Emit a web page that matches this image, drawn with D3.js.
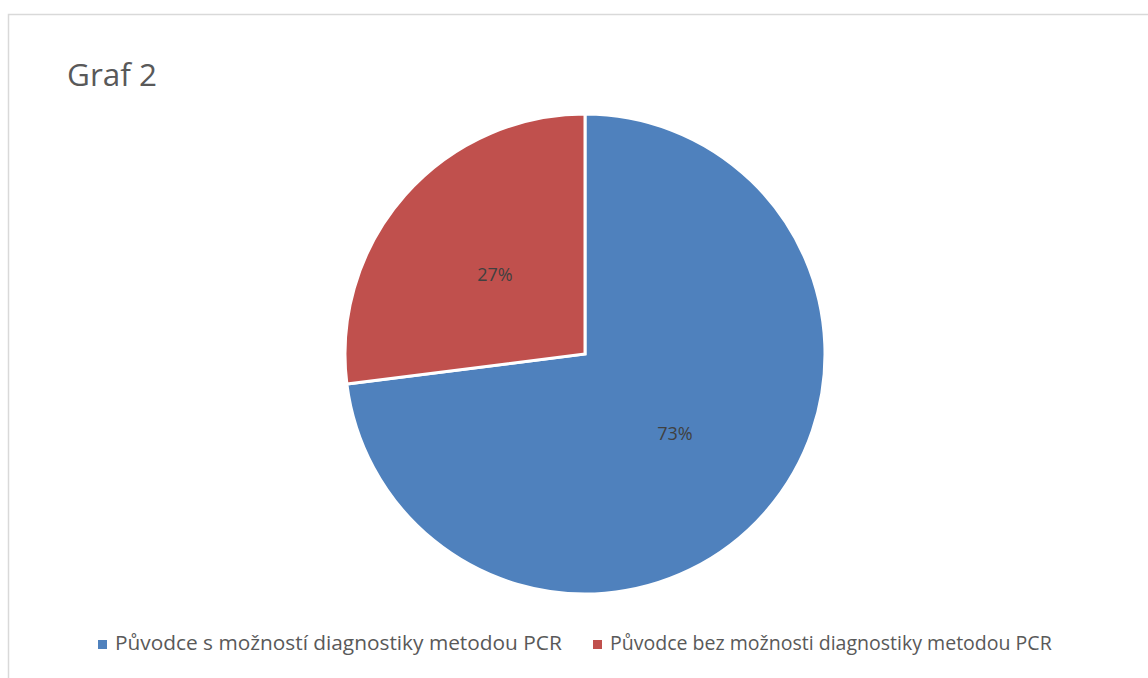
<!DOCTYPE html>
<html>
<head>
<meta charset="utf-8">
<script src="https://cdn.jsdelivr.net/npm/d3@7"></script>
<style>
	body { margin: 0; background: #fff; }
	svg { display: block; }
</style>
</head>
<body>
<svg id="chart" width="1148" height="678"></svg>
<script>
(function(){
	'use strict';

	// data
	var categories = ['Původce s možností diagnostiky metodou PCR', 'Původce bez možnosti diagnostiky metodou PCR'];
	var values = [73, 27];
	var colors = ['#4F81BD', '#C0504D'];
	var title = 'Graf 2';

	var font = '"Open Sans", sans-serif';
	var svg = d3.select('#chart');

	// frame (cut off at right and bottom)
	svg.append('rect')
		.attr('x', 8.5).attr('y', 14.5)
		.attr('width', 1200).attr('height', 700)
		.attr('fill', '#fff')
		.attr('stroke', '#d9d9d9')
		.attr('stroke-width', 1.5);

	// squeeze text horizontally to a target width by font size
	function fitText(sel, width){
		var w = sel.node().getComputedTextLength();
		var fs = parseFloat(sel.attr('font-size'));
		sel.attr('font-size', fs * width / w);
	}

	var t = svg.append('text')
		.text(title)
		.attr('x', 67).attr('y', 86)
		.attr('font-family', font)
		.attr('font-size', 32)
		.attr('fill', '#595959');
	fitText(t, 90);

	var cx = 585, cy = 354, r = 240;

	var pie = d3.pie().sort(null).value(function(d){ return d.value; });
	var arc = d3.arc().innerRadius(0).outerRadius(r);
	var labelArc = d3.arc().innerRadius(r * 0.5).outerRadius(r * 0.5);

	var data = categories.map(function(c, i){ return { name: c, value: values[i], color: colors[i] }; });
	var total = d3.sum(values);

	var g = svg.append('g').attr('transform', 'translate(' + cx + ',' + cy + ')');

	g.selectAll('path.slice')
		.data(pie(data))
		.enter().append('path')
		.attr('class', 'slice')
		.attr('d', arc)
		.attr('fill', function(d){ return d.data.color; })
		.attr('stroke', '#fff')
		.attr('stroke-width', 3)
		.attr('stroke-linejoin', 'miter');

	g.selectAll('text.lbl')
		.data(pie(data))
		.enter().append('text')
		.attr('class', 'lbl')
		.attr('transform', function(d){ return 'translate(' + labelArc.centroid(d) + ')'; })
		.attr('text-anchor', 'middle')
		.attr('dy', '0.35em')
		.attr('font-family', font)
		.attr('font-size', 18)
		.attr('fill', '#404040')
		.text(function(d){ return Math.round(d.data.value / total * 100) + '%'; });

	// legend
	var legendX = [98, 593];
	var legendW = [447, 442];
	var lg = svg.selectAll('g.legend')
		.data(data)
		.enter().append('g')
		.attr('class', 'legend')
		.attr('transform', function(d, i){ return 'translate(' + legendX[i] + ',648)'; });

	lg.append('rect')
		.attr('x', 0).attr('y', -8)
		.attr('width', 9).attr('height', 9)
		.attr('fill', function(d){ return d.color; });

	lg.append('text')
		.attr('x', 17).attr('y', 2)
		.attr('font-family', font)
		.attr('font-size', 18)
		.attr('fill', '#595959')
		.text(function(d){ return d.name; })
		.each(function(d, i){ fitText(d3.select(this), legendW[i]); });

})();
</script>
</body>
</html>
